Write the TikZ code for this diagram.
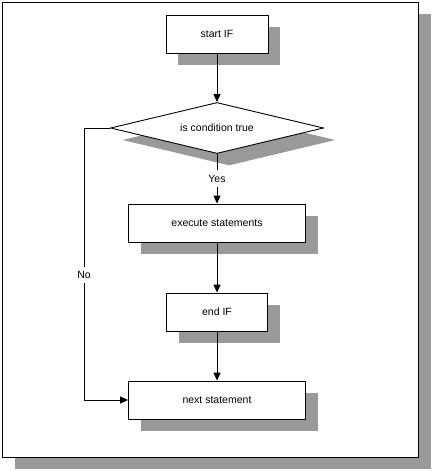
\documentclass[tikz,border=0pt]{standalone}
\usepackage{fontspec}
\setmainfont{Liberation Sans}
\usetikzlibrary{shapes.geometric, arrows.meta, shadows}

\begin{document}
\begin{tikzpicture}[x=1pt, y=-1pt,
    font=\fontsize{10.5}{12}\selectfont,
    sombra/.style={drop shadow={shadow xshift=12pt, shadow yshift=-12pt, fill=black!40, opacity=1}},
    stepbox/.style={draw, line width=0.9pt, fill=white, minimum height=38pt, inner sep=0pt, sombra},
    decision/.style={diamond, draw, line width=0.9pt, fill=white, aspect=4, inner sep=0pt,
        minimum width=213pt, minimum height=51pt, sombra},
    flow/.style={-{Triangle[length=8pt,width=7pt]}, line width=0.9pt},
    rotulo/.style={fill=white, inner xsep=2pt}]
    \useasboundingbox (0,0) rectangle (434,471);

    % moldura com sombra
    \fill[black!40] (15,14) rectangle (431,469);
    \draw[fill=white, line width=1pt] (2,2) rectangle (418,457);

    % passos do IF
    \node[stepbox, minimum width=102pt] (start) at (217,34) {start IF};
    \node[decision] (cond) at (217,128) {is condition true};
    \node[stepbox, minimum width=177pt] (exec) at (217,223) {execute statements};
    \node[stepbox, minimum width=101pt] (endif) at (217,312) {end IF};
    \node[stepbox, minimum width=177pt] (next) at (217,400) {next statement};

    % setas
    \draw[flow] (start) -- (cond);
    \draw[flow] (cond) -- node[rotulo, inner ysep=5pt] {Yes} (exec);
    \draw[flow] (exec) -- (endif);
    \draw[flow] (endif) -- (next);
    \draw[flow] (cond.west) -- ++(-26,0) |- node[rotulo, pos=0.27, inner ysep=4pt] {No} (next.west);
\end{tikzpicture}
\end{document}
